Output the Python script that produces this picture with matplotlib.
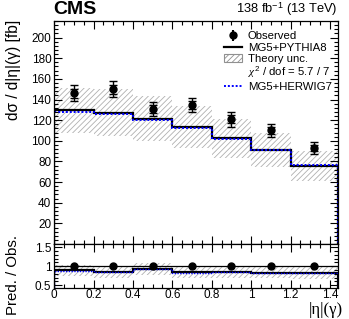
import numpy as np
import matplotlib
matplotlib.use("Agg")
import matplotlib.pyplot as plt
from matplotlib.lines import Line2D
from matplotlib.patches import Patch
from matplotlib.ticker import MultipleLocator, FixedLocator

plt.rcParams['font.family'] = ['Liberation Sans', 'DejaVu Sans']
plt.rcParams['mathtext.fontset'] = 'custom'
plt.rcParams['mathtext.rm'] = 'Liberation Sans'
plt.rcParams['mathtext.it'] = 'Liberation Serif:italic'
plt.rcParams['hatch.linewidth'] = 0.6

# ---- data ----
edges = [0.0, 0.2, 0.4, 0.6, 0.8, 1.0, 1.2, 1.44]
obs_x = [0.1, 0.3, 0.5, 0.7, 0.9, 1.1, 1.32]
obs_y = [146, 150, 131, 134.5, 121, 110, 93]
obs_tot = [7.8, 7.6, 7.0, 7.0, 7.2, 6.5, 5.8]
obs_stat = [4.5, 4.5, 4.0, 4.0, 4.0, 3.5, 3.0]
pythia = [129.7, 127.0, 121.6, 113.5, 102.8, 91.2, 75.7]
herwig = [128.0, 125.8, 120.0, 112.0, 102.0, 90.8, 76.2]
theo_hi = [151.5, 150.0, 143.0, 134.0, 121.5, 108.0, 90.0]
theo_lo = [108.0, 105.0, 99.5, 93.0, 83.0, 74.5, 61.0]
y_ticks = [20, 40, 60, 80, 100, 120, 140, 160, 180, 200]
x_ticks = [0, 0.2, 0.4, 0.6, 0.8, 1.0, 1.2, 1.4]
x_ticklabels = ['0', '0.2', '0.4', '0.6', '0.8', '1', '1.2', '1.4']
r_ticks = [0.5, 1.0, 1.5]
r_ticklabels = ['0.5', '1', '1.5']

obs_y_a = np.array(obs_y)
ratio_py = np.array(pythia) / obs_y_a
ratio_hw = np.array(herwig) / obs_y_a
ratio_hi = np.array(theo_hi) / obs_y_a
ratio_lo = np.array(theo_lo) / obs_y_a
ratio_err = np.array(obs_tot) / obs_y_a

fig = plt.figure(figsize=(3.49, 3.19), dpi=100)
ax = fig.add_axes([0.155, 0.235, 0.813, 0.699])
rx = fig.add_axes([0.155, 0.097, 0.813, 0.138], sharex=ax)

hatch_col = '#b0b0b0'
# top panel
ax.stairs(theo_hi, edges, baseline=theo_lo, fill=True, facecolor='none',
          edgecolor=hatch_col, hatch='//////', linewidth=0)
ax.stairs(pythia, edges, color='black', linewidth=1.6)
ax.stairs(herwig, edges, color='blue', linewidth=1.4, linestyle=(0, (1, 1)))
ax.errorbar(obs_x, obs_y, yerr=obs_tot, fmt='none', ecolor='black',
            elinewidth=1.0, capsize=3, capthick=1.0)
ax.errorbar(obs_x, obs_y, yerr=obs_stat, fmt='o', color='black', ms=5,
            elinewidth=1.0, capsize=3, capthick=1.0)

ax.set_xlim(0, 1.44)
ax.set_ylim(0, 216)
ax.yaxis.set_major_locator(FixedLocator(y_ticks))
ax.yaxis.set_minor_locator(MultipleLocator(4))
ax.xaxis.set_minor_locator(MultipleLocator(0.05))

# ratio panel
rx.stairs(ratio_hi, edges, baseline=ratio_lo, fill=True, facecolor='none',
          edgecolor=hatch_col, hatch='//////', linewidth=0)
rx.axhline(1.0, color='black', linewidth=0.9)
rx.stairs(ratio_py, edges, color='black', linewidth=1.6)
rx.stairs(ratio_hw, edges, color='blue', linewidth=1.0, linestyle=(0, (1, 1)))
rx.errorbar(obs_x, np.ones(len(obs_x)), yerr=ratio_err, fmt='o', color='black',
            ms=5, elinewidth=1.0)
rx.set_ylim(0.42, 1.59)
rx.yaxis.set_minor_locator(MultipleLocator(0.1))
rx.set_yticks(r_ticks)
rx.set_yticklabels(r_ticklabels)
rx.set_xticks(x_ticks)
rx.set_xticklabels(x_ticklabels)
rx.xaxis.set_minor_locator(MultipleLocator(0.05))
ax.tick_params(axis='x', labelbottom=False)

for a in (ax, rx):
    a.tick_params(which='both', direction='in', top=True, right=True,
                  labelsize=8.5, width=0.8)
    a.tick_params(which='major', length=6, pad=2)
    a.tick_params(which='minor', length=3)
    for s in a.spines.values():
        s.set_linewidth(0.9)
rx.tick_params(axis='x', pad=1.0)

# labels
fig.text(0.016, 0.937, 'dσ / d|η|(γ) [fb]', rotation=90, ha='left', va='top',
         fontsize=11.2)
fig.text(0.016, 0.138, 'Pred. / Obs.', rotation=90, ha='left', va='center',
         fontsize=10.8)
fig.text(0.983, 0.004, '|η|(γ)', ha='right', va='bottom', fontsize=12,
         family='Liberation Serif')

fig.text(0.152, 0.944, 'CMS', fontsize=14, fontweight='bold', ha='left', va='bottom')
fig.text(0.968, 0.944, r'138 fb$^{-1}$ (13 TeV)', fontsize=9.3, ha='right', va='bottom')

# legend
h_obs = ax.errorbar([], [], yerr=[], fmt='o', color='black', ms=5, capsize=3)
h_py = Line2D([], [], color='black', linewidth=1.6)
h_th = Patch(facecolor='none', edgecolor='#909090', hatch='//////', linewidth=0.8)
h_blank = Line2D([], [], color='none')
h_hw = Line2D([], [], color='blue', linewidth=1.4, linestyle=(0, (1, 1)))
leg = ax.legend([h_obs, h_py, h_th, h_blank, h_hw],
                ['Observed', 'MG5+PYTHIA8', 'Theory unc.',
                 r'$\chi^2$ / dof = 5.7 / 7', 'MG5+HERWIG7'],
                loc='upper left', bbox_to_anchor=(0.57, 0.99), frameon=False,
                fontsize=8.2, handlelength=1.6, handletextpad=0.5,
                labelspacing=0.12, borderpad=0.2)

fig.savefig('out.png', dpi=100)
